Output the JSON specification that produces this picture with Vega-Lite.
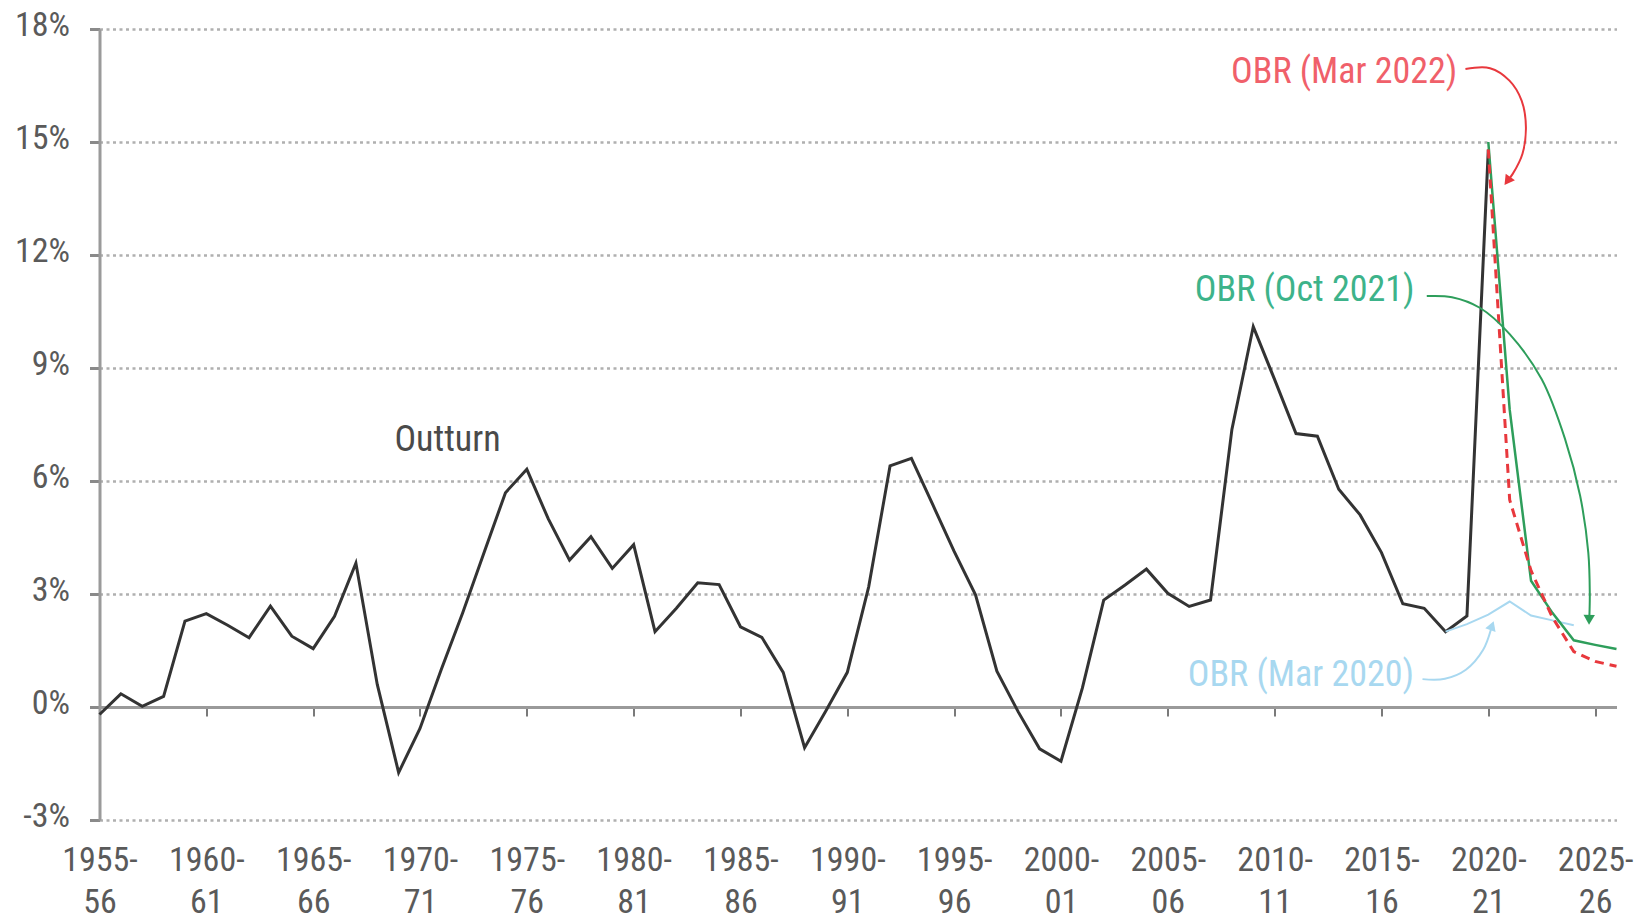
{
  "$schema": "https://vega.github.io/schema/vega-lite/v6.json",
  "width": 1517,
  "height": 791,
  "autosize": {"type": "none"},
  "padding": {"left": 99.5, "top": 29, "right": 25.5, "bottom": 101},
  "background": "white",
  "config": {
    "view": {"stroke": null},
    "font": "Liberation Sans Narrow, Roboto Condensed, Roboto, sans-serif"
  },
  "datasets": {
    "outturn": [
      {"year": 1955, "value": -0.2}, {"year": 1956, "value": 0.35}, {"year": 1957, "value": 0.02},
      {"year": 1958, "value": 0.28}, {"year": 1959, "value": 2.28}, {"year": 1960, "value": 2.48},
      {"year": 1961, "value": 2.17}, {"year": 1962, "value": 1.84}, {"year": 1963, "value": 2.68},
      {"year": 1964, "value": 1.88}, {"year": 1965, "value": 1.55}, {"year": 1966, "value": 2.41},
      {"year": 1967, "value": 3.82}, {"year": 1968, "value": 0.6}, {"year": 1969, "value": -1.74},
      {"year": 1970, "value": -0.57}, {"year": 1971, "value": 1.0}, {"year": 1972, "value": 2.5},
      {"year": 1973, "value": 4.1}, {"year": 1974, "value": 5.69}, {"year": 1975, "value": 6.31},
      {"year": 1976, "value": 5.0}, {"year": 1977, "value": 3.9}, {"year": 1978, "value": 4.52},
      {"year": 1979, "value": 3.68}, {"year": 1980, "value": 4.31}, {"year": 1981, "value": 2.0},
      {"year": 1982, "value": 2.62}, {"year": 1983, "value": 3.3}, {"year": 1984, "value": 3.25},
      {"year": 1985, "value": 2.13}, {"year": 1986, "value": 1.85}, {"year": 1987, "value": 0.92},
      {"year": 1988, "value": -1.08}, {"year": 1989, "value": -0.1}, {"year": 1990, "value": 0.92},
      {"year": 1991, "value": 3.19}, {"year": 1992, "value": 6.4}, {"year": 1993, "value": 6.6},
      {"year": 1994, "value": 5.37}, {"year": 1995, "value": 4.13}, {"year": 1996, "value": 2.98},
      {"year": 1997, "value": 0.95}, {"year": 1998, "value": -0.13}, {"year": 1999, "value": -1.11},
      {"year": 2000, "value": -1.44}, {"year": 2001, "value": 0.5}, {"year": 2002, "value": 2.84},
      {"year": 2003, "value": 3.24}, {"year": 2004, "value": 3.66}, {"year": 2005, "value": 3.02},
      {"year": 2006, "value": 2.67}, {"year": 2007, "value": 2.84}, {"year": 2008, "value": 7.37},
      {"year": 2009, "value": 10.1}, {"year": 2010, "value": 8.69}, {"year": 2011, "value": 7.26},
      {"year": 2012, "value": 7.19}, {"year": 2013, "value": 5.78}, {"year": 2014, "value": 5.1},
      {"year": 2015, "value": 4.1}, {"year": 2016, "value": 2.74}, {"year": 2017, "value": 2.62},
      {"year": 2018, "value": 2.0}, {"year": 2019, "value": 2.42}, {"year": 2020, "value": 14.8}
    ],
    "mar2020": [
      {"year": 2018, "value": 2.0}, {"year": 2019, "value": 2.2}, {"year": 2020, "value": 2.45},
      {"year": 2021, "value": 2.8}, {"year": 2022, "value": 2.43}, {"year": 2023, "value": 2.3},
      {"year": 2024, "value": 2.17}
    ],
    "oct2021": [
      {"year": 2020, "value": 15.0}, {"year": 2021, "value": 7.9}, {"year": 2022, "value": 3.35},
      {"year": 2023, "value": 2.5}, {"year": 2024, "value": 1.77}, {"year": 2025, "value": 1.65},
      {"year": 2026, "value": 1.54}
    ],
    "mar2022": [
      {"year": 2020, "value": 14.8}, {"year": 2021, "value": 5.5}, {"year": 2022, "value": 3.62},
      {"year": 2023, "value": 2.38}, {"year": 2024, "value": 1.47}, {"year": 2025, "value": 1.21},
      {"year": 2026, "value": 1.08}
    ]
  },
  "layer": [
    {
      "data": {"name": "outturn"},
      "mark": {"type": "line", "color": "#333333", "strokeWidth": 3, "strokeJoin": "miter"},
      "encoding": {
        "x": {
          "field": "year", "type": "quantitative",
          "scale": {"domain": [1955, 2026], "nice": false, "zero": false},
          "axis": {
            "orient": "bottom", "title": null,
            "values": [1955, 1960, 1965, 1970, 1975, 1980, 1985, 1990, 1995, 2000, 2005, 2010, 2015, 2020, 2025],
            "labelExpr": "[datum.value + '-', slice(toString(datum.value + 1), 2)]",
            "domain": false, "ticks": false, "grid": false,
            "labelFontSize": 34, "labelColor": "#5a5a5a", "labelPadding": 23,
            "labelLineHeight": 42, "labelBaseline": "top", "labelFlush": false, "labelOverlap": false
          }
        },
        "y": {
          "field": "value", "type": "quantitative",
          "scale": {"domain": [-3, 18], "nice": false, "zero": false},
          "axis": {
            "title": null,
            "values": [-3, 0, 3, 6, 9, 12, 15, 18],
            "labelExpr": "datum.value + '%'",
            "domain": true, "domainColor": "#9a9a9a", "domainWidth": 3,
            "ticks": true, "tickSize": 10, "tickColor": "#8a8a8a", "tickWidth": 3,
            "grid": true, "gridColor": "#b0b0b0", "gridDash": [3, 3.5], "gridWidth": 2.5,
            "labelFontSize": 34, "labelColor": "#5a5a5a", "labelPadding": 20, "labelOffset": -4
          }
        }
      }
    },
    {
      "data": {"name": "mar2020"},
      "mark": {"type": "line", "color": "#a8d8f0", "strokeWidth": 2},
      "encoding": {
        "x": {
          "field": "year", "type": "quantitative",
          "axis": {
            "orient": "bottom", "title": null, "offset": -113,
            "values": [1955, 1960, 1965, 1970, 1975, 1980, 1985, 1990, 1995, 2000, 2005, 2010, 2015, 2020, 2025],
            "labels": false, "grid": false,
            "domain": true, "domainColor": "#9a9a9a", "domainWidth": 3,
            "ticks": true, "tickSize": 9, "tickColor": "#7a7a7a", "tickWidth": 2
          }
        },
        "y": {"field": "value", "type": "quantitative"}
      }
    },
    {
      "data": {"name": "oct2021"},
      "mark": {"type": "line", "color": "#2e9e5b", "strokeWidth": 2.5},
      "encoding": {
        "x": {"field": "year", "type": "quantitative", "axis": null},
        "y": {"field": "value", "type": "quantitative"}
      }
    },
    {
      "data": {"name": "mar2022"},
      "mark": {"type": "line", "color": "#e8383d", "strokeWidth": 3, "strokeDash": [9, 6]},
      "encoding": {
        "x": {"field": "year", "type": "quantitative", "axis": null},
        "y": {"field": "value", "type": "quantitative"}
      }
    },
    {
      "data": {"values": [{"x": 1971.29, "y": 7.1, "t": "Outturn"}]},
      "mark": {"type": "text", "fontSize": 36, "color": "#4a4a4a", "align": "center", "baseline": "middle"},
      "encoding": {
        "x": {"field": "x", "type": "quantitative", "axis": null},
        "y": {"field": "y", "type": "quantitative"},
        "text": {"field": "t"}
      }
    },
    {
      "data": {"values": [{"x": 2018.55, "y": 16.86, "t": "OBR (Mar 2022)"}]},
      "mark": {"type": "text", "fontSize": 36, "color": "#f0606a", "align": "right", "baseline": "middle"},
      "encoding": {
        "x": {"field": "x", "type": "quantitative", "axis": null},
        "y": {"field": "y", "type": "quantitative"},
        "text": {"field": "t"}
      }
    },
    {
      "data": {"values": [{"x": 2016.55, "y": 11.07, "t": "OBR (Oct 2021)"}]},
      "mark": {"type": "text", "fontSize": 36, "color": "#3db38a", "align": "right", "baseline": "middle"},
      "encoding": {
        "x": {"field": "x", "type": "quantitative", "axis": null},
        "y": {"field": "y", "type": "quantitative"},
        "text": {"field": "t"}
      }
    },
    {
      "data": {"values": [{"x": 2016.52, "y": 0.86, "t": "OBR (Mar 2020)"}]},
      "mark": {"type": "text", "fontSize": 36, "color": "#a8d8f0", "align": "right", "baseline": "middle"},
      "encoding": {
        "x": {"field": "x", "type": "quantitative", "axis": null},
        "y": {"field": "y", "type": "quantitative"},
        "text": {"field": "t"}
      }
    },
    {
      "data": {"values": [
        {"i": 1, "x": 2018.93, "y": 16.94}, {"i": 2, "x": 2020.08, "y": 16.96},
        {"i": 3, "x": 2020.99, "y": 16.63}, {"i": 4, "x": 2021.56, "y": 16.1},
        {"i": 5, "x": 2021.76, "y": 15.4}, {"i": 6, "x": 2021.6, "y": 14.69},
        {"i": 7, "x": 2021.15, "y": 14.16}, {"i": 8, "x": 2020.94, "y": 14.0}
      ]},
      "mark": {"type": "line", "color": "#e8383d", "strokeWidth": 2, "interpolate": "catmull-rom"},
      "encoding": {
        "x": {"field": "x", "type": "quantitative", "axis": null},
        "y": {"field": "y", "type": "quantitative"},
        "order": {"field": "i", "type": "quantitative"}
      }
    },
    {
      "data": {"values": [{"x": 2020.94, "y": 14.0}]},
      "mark": {"type": "point", "shape": "triangle", "filled": true, "color": "#e8383d", "size": 130, "angle": 216, "opacity": 1},
      "encoding": {
        "x": {"field": "x", "type": "quantitative", "axis": null},
        "y": {"field": "y", "type": "quantitative"}
      }
    },
    {
      "data": {"values": [
        {"i": 1, "x": 2017.12, "y": 10.91}, {"i": 2, "x": 2018.3, "y": 10.88},
        {"i": 3, "x": 2019.6, "y": 10.6}, {"i": 4, "x": 2021.0, "y": 9.9},
        {"i": 5, "x": 2022.5, "y": 8.7}, {"i": 6, "x": 2023.6, "y": 7.1},
        {"i": 7, "x": 2024.3, "y": 5.6}, {"i": 8, "x": 2024.68, "y": 4.1},
        {"i": 9, "x": 2024.75, "y": 3.0}, {"i": 10, "x": 2024.73, "y": 2.4}
      ]},
      "mark": {"type": "line", "color": "#2e9e5b", "strokeWidth": 2, "interpolate": "catmull-rom"},
      "encoding": {
        "x": {"field": "x", "type": "quantitative", "axis": null},
        "y": {"field": "y", "type": "quantitative"},
        "order": {"field": "i", "type": "quantitative"}
      }
    },
    {
      "data": {"values": [{"x": 2024.72, "y": 2.36}]},
      "mark": {"type": "point", "shape": "triangle", "filled": true, "color": "#2e9e5b", "size": 130, "angle": 181, "opacity": 1},
      "encoding": {
        "x": {"field": "x", "type": "quantitative", "axis": null},
        "y": {"field": "y", "type": "quantitative"}
      }
    },
    {
      "data": {"values": [
        {"i": 1, "x": 2016.92, "y": 0.74}, {"i": 2, "x": 2017.97, "y": 0.75},
        {"i": 3, "x": 2018.95, "y": 0.99}, {"i": 4, "x": 2019.76, "y": 1.52},
        {"i": 5, "x": 2020.12, "y": 2.05}
      ]},
      "mark": {"type": "line", "color": "#a8d8f0", "strokeWidth": 2, "interpolate": "catmull-rom"},
      "encoding": {
        "x": {"field": "x", "type": "quantitative", "axis": null},
        "y": {"field": "y", "type": "quantitative"},
        "order": {"field": "i", "type": "quantitative"}
      }
    },
    {
      "data": {"values": [{"x": 2020.15, "y": 2.12}]},
      "mark": {"type": "point", "shape": "triangle", "filled": true, "color": "#a8d8f0", "size": 120, "angle": 20, "opacity": 1},
      "encoding": {
        "x": {"field": "x", "type": "quantitative", "axis": null},
        "y": {"field": "y", "type": "quantitative"}
      }
    }
  ],
  "resolve": {"axis": {"x": "independent"}}
}
